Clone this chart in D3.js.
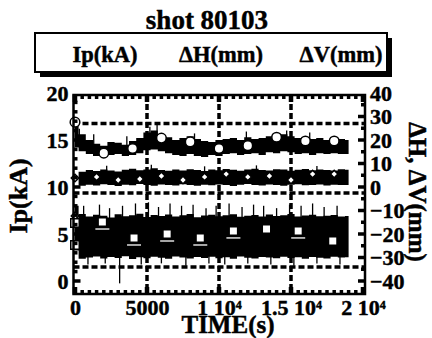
<!DOCTYPE html>
<html><head><meta charset="utf-8">
<script src="https://cdn.jsdelivr.net/npm/d3@7"></script>
<style>
body{margin:0;background:#fff}
text{font-family:"Liberation Serif","Times New Roman",serif;font-weight:bold;fill:#000;stroke:#000;stroke-width:0.45px}
</style></head><body>
<svg id="c" width="432" height="338"></svg>
<script>
// ---------------- data ----------------
const chartTitle = "shot 80103";
const seriesNames = ["Ip(kA)", "ΔH(mm)", "ΔV(mm)"];
const xTitle = "TIME(s)";
const yLeftTitle = "Ip(kA)";
const yRightTitle = "ΔH, ΔV(mm)";
const xTickValues = [0, 5000, 10000, 15000, 20000];
const xTickLabels = ["0", "5000", "1 10^4", "1.5 10^4", "2 10^4"];
const ipTickValues = [0, 5, 10, 15, 20];
const dTickValues = [-40, -30, -20, -10, 0, 10, 20, 30, 40];
const gridTimes = [5000, 10000, 15000];
const gridLevels = [27, -2.5, -34];           // mm, right axis

// envelope sample times (s)
const envTime = [0,500,1000,1500,2000,2500,3000,3500,4000,4500,5000,5500,6000,6500,7000,7500,8000,8500,9000,9500,
  10000,10500,11000,11500,12000,12500,13000,13500,14000,14500,15000,15500,16000,16500,17000,17500,18000,18500,19000];
// Ip trace envelope (kA)
const ipHigh = [16.9,15.6,15.0,14.6,14.4,14.8,14.7,14.5,14.9,15.2,15.8,16.0,15.6,15.3,15.0,15.2,15.4,15.1,14.9,14.8,
  15.0,15.1,15.2,15.0,15.3,15.1,15.2,15.4,15.3,15.6,15.4,15.2,15.3,15.1,15.2,15.0,15.3,15.1,15.0];
const ipLow = [14.2,13.8,13.5,13.3,13.2,13.4,13.5,13.3,13.4,13.6,13.9,14.0,13.8,13.6,13.4,13.3,13.5,13.3,13.2,13.4,
  13.3,13.5,13.6,13.4,13.5,13.6,13.4,13.7,13.6,13.8,13.7,13.5,13.6,13.4,13.6,13.5,13.6,13.5,13.5];
// ΔH trace envelope (mm)
const dhHigh = [-8,6.5,7.2,6.8,7.5,7.0,6.6,7.3,7.8,7.1,7.4,8.0,7.2,6.9,7.5,7.0,7.6,7.2,6.8,7.4,
  7.1,7.7,7.3,6.9,7.5,7.8,7.2,7.0,7.6,7.4,6.9,7.3,7.7,7.1,7.5,7.2,7.0,7.6,7.3];
const dhLow = [-13,0.5,1.0,0.6,1.2,0.8,0.4,1.0,0.7,1.3,0.9,0.5,1.1,0.8,0.6,1.2,0.9,0.5,1.0,0.7,
  1.1,0.8,0.4,1.0,1.3,0.9,0.6,1.1,0.8,0.5,1.0,1.2,0.7,0.9,1.1,0.6,1.0,0.8,0.9];
// ΔV trace envelope (mm)
const dvHigh = [-14,-11.5,-12.5,-11.8,-12.2,-13.0,-11.6,-12.4,-12.0,-11.4,-12.8,-11.9,-12.3,-11.7,-12.6,-12.0,-11.5,-12.9,-12.1,-11.8,
  -12.4,-12.0,-11.6,-12.7,-12.2,-11.9,-12.5,-11.7,-12.3,-12.0,-11.5,-12.6,-12.1,-11.8,-12.4,-12.2,-11.9,-12.5,-12.3];
const dvLow = [-27,-30.5,-30.0,-29.6,-30.4,-29.8,-30.2,-29.5,-30.6,-29.9,-30.3,-29.7,-30.1,-30.5,-29.6,-30.0,-30.4,-29.8,-30.2,-29.7,
  -30.3,-29.9,-30.5,-29.6,-30.1,-30.4,-29.8,-30.0,-30.3,-29.7,-30.2,-29.9,-30.5,-29.8,-30.1,-30.4,-29.7,-30.0,-29.9];

// noise spikes (time s, tip value)
const ipSpikeT = [300,1300,3600,5200,5700,8300,11900,14700,16300];
const ipSpikeV = [16.2,15.6,15.4,16.4,16.6,15.7,15.9,16.0,15.8];
const dhSpikeT = [2200,5300,9000,12600,16800];
const dhSpikeV = [9.0,9.5,8.8,9.2,8.9];
const dvUpT = [600,1700,2400,3300,4200,5100,5800,6600,7400,8200,9100,9800,10700,11600,12400,13100,14000,14900,15700,16500,17300,18200];
const dvUpV = [-8,-7.5,-9,-8,-7,-6.5,-8.5,-7,-8,-7.5,-9,-8,-7,-8.5,-7.5,-8,-9,-7.5,-8,-7,-8.5,-8];
const dvDnT = [900,2100,3100,4600,6000,7700,9300,10400,12000,13600,15200,16800,18400];
const dvDnV = [-33,-32.5,-41,-33,-32.5,-33.5,-32.5,-33,-32.5,-33,-33.5,-32.5,-33];

// markers
const ipMarkT = [0,2000,4000,6000,8000,10000,12000,14000,16000,18000];
const ipMarkV = [16.9,13.6,14.1,15.2,14.8,14.1,14.4,15.3,14.9,14.9];
const dhMarkT = [0,0,1500,3000,4500,6000,7500,9000,10500,12000,13500,15000,16500,18000];
const dhMarkV = [-12.3,3.8,4.3,3.0,3.4,4.7,3.0,4.3,5.5,4.3,4.7,3.0,5.5,5.5];
const dvMarkT = [0,0,1900,4100,6400,8700,11000,13300,15500,17900];
const dvMarkV = [-15.3,-24.7,-14.9,-21.7,-20.0,-21.7,-18.7,-17.9,-18.7,-23.0];
const dvUnderlined = [2,3,4,5,6,8];

// ---------------- drawing ----------------
const svg = d3.select("#c");
const x = d3.scaleLinear([0, 20000], [75, 363]);
const yL = d3.scaleLinear([0, 20], [281, 93]);
const yR = d3.scaleLinear([-40, 40], [281, 93]);
const fr = {x0: 73.5, x1: 365, y0: 95, y1: 294};

// title
svg.append("text").attr("x", 207).attr("y", 29).attr("text-anchor", "middle")
  .style("font-size", "27px").text(chartTitle);

// legend box
svg.append("rect").attr("x", 40).attr("y", 38).attr("width", 352).attr("height", 39).attr("fill", "#000");
svg.append("rect").attr("x", 35).attr("y", 33).attr("width", 352).attr("height", 39)
  .attr("fill", "#fff").attr("stroke", "#000").attr("stroke-width", 2);
const legX = [105, 221, 341];
seriesNames.forEach((s, i) => {
  svg.append("text").attr("x", legX[i]).attr("y", 62).attr("text-anchor", "middle")
    .style("font-size", "22.5px").text(s);
});

// grid
const grid = svg.append("g").attr("stroke", "#000").attr("stroke-width", 3.5).attr("stroke-dasharray", "6,3");
gridTimes.forEach(t => grid.append("line").attr("x1", x(t)).attr("x2", x(t)).attr("y1", fr.y0).attr("y2", fr.y1));
gridLevels.forEach(v => grid.append("line").attr("x1", fr.x0).attr("x2", fr.x1).attr("y1", yR(v)).attr("y2", yR(v)));

// bands
function band(hi, lo, y) {
  const d = envTime.map((t, i) => ({t, hi: hi[i], lo: lo[i]}));
  svg.append("path").datum(d).attr("fill", "#000")
    .attr("d", d3.area().x(p => x(p.t)).y0(p => y(p.lo)).y1(p => y(p.hi)).curve(d3.curveStep));
}
band(ipHigh, ipLow, yL);
band(dhHigh, dhLow, yR);
band(dvHigh, dvLow, yR);

function mid(hi, lo, t) {
  const i = d3.bisectLeft(envTime, t);
  const k = Math.min(i, envTime.length - 1);
  return (hi[k] + lo[k]) / 2;
}
function spikes(T, V, hi, lo, y) {
  T.forEach((t, i) => svg.append("line").attr("x1", x(t)).attr("x2", x(t))
    .attr("y1", y(V[i])).attr("y2", y(mid(hi, lo, t))).attr("stroke", "#000").attr("stroke-width", 1.3));
}
spikes(ipSpikeT, ipSpikeV, ipHigh, ipLow, yL);
spikes(dhSpikeT, dhSpikeV, dhHigh, dhLow, yR);
spikes(dvUpT, dvUpV, dvHigh, dvLow, yR);
spikes(dvDnT, dvDnV, dvHigh, dvLow, yR);

// markers
svg.append("g").selectAll("circle").data(ipMarkT).join("circle")
  .attr("cx", d => x(d)).attr("cy", (d, i) => yL(ipMarkV[i])).attr("r", 4.8)
  .attr("fill", "#fff").attr("stroke", "#000").attr("stroke-width", 1.5);
svg.append("g").selectAll("path").data(dhMarkT).join("path")
  .attr("d", d3.symbol(d3.symbolSquare, 28)())
  .attr("transform", (d, i) => `translate(${x(d)},${yR(dhMarkV[i])}) rotate(45)`)
  .attr("fill", "#fff").attr("stroke", "#000").attr("stroke-width", 1.5);
svg.append("g").selectAll("line").data(dvUnderlined).join("line")
  .attr("x1", i => x(dvMarkT[i]) - 7).attr("x2", i => x(dvMarkT[i]) + 7)
  .attr("y1", i => yR(dvMarkV[i]) + 7).attr("y2", i => yR(dvMarkV[i]) + 7)
  .attr("stroke", "#fff").attr("stroke-width", 1.3);
svg.append("g").selectAll("path").data(dvMarkT).join("path")
  .attr("d", d3.symbol(d3.symbolSquare, 72)())
  .attr("transform", (d, i) => `translate(${x(d)},${yR(dvMarkV[i])})`)
  .attr("fill", "#fff").attr("stroke", "#000").attr("stroke-width", 1.5);

// frame with ticks
const fg = svg.append("g").attr("stroke", "#000");
fg.append("rect").attr("x", fr.x0).attr("y", fr.y0).attr("width", fr.x1 - fr.x0).attr("height", fr.y1 - fr.y0)
  .attr("fill", "none").attr("stroke-width", 2.5);
d3.range(0, 20001, 500).forEach(t => {
  const L = t % 5000 === 0 ? 7 : 4, w = t % 5000 === 0 ? 4.5 : 3.5;
  if (x(t) < fr.x0 + 1 || x(t) > fr.x1 - 1) return;
  fg.append("line").attr("x1", x(t)).attr("x2", x(t)).attr("y1", fr.y1).attr("y2", fr.y1 - L).attr("stroke-width", w);
  fg.append("line").attr("x1", x(t)).attr("x2", x(t)).attr("y1", fr.y0).attr("y2", fr.y0 + L).attr("stroke-width", w);
});
d3.range(0, 20.01, 1).forEach(v => {
  const L = v % 5 === 0 ? 7 : 4;
  if (yL(v) < fr.y0 + 1) return;
  fg.append("line").attr("x1", fr.x0).attr("x2", fr.x0 + L).attr("y1", yL(v)).attr("y2", yL(v)).attr("stroke-width", 3.5);
});
d3.range(-40, 40.01, 5).forEach(v => {
  const L = v % 10 === 0 ? 7 : 4;
  if (yR(v) < fr.y0 + 1) return;
  fg.append("line").attr("x1", fr.x1).attr("x2", fr.x1 - L).attr("y1", yR(v)).attr("y2", yR(v)).attr("stroke-width", 3.5);
});

// axes labels
const axL = svg.append("g").attr("transform", `translate(${fr.x0},0)`)
  .call(d3.axisLeft(yL).tickValues(ipTickValues).tickSize(0).tickPadding(5));
const axR = svg.append("g").attr("transform", `translate(${fr.x1},0)`)
  .call(d3.axisRight(yR).tickValues(dTickValues).tickSize(0).tickPadding(5));
const axB = svg.append("g").attr("transform", `translate(0,${fr.y1})`)
  .call(d3.axisBottom(x).tickValues(xTickValues).tickSize(0).tickPadding(5).tickFormat((d, i) => xTickLabels[i]));
[axL, axR, axB].forEach(a => {
  a.select(".domain").remove();
  a.selectAll("text").style("font-size", "22px").attr("fill", "#000");
  a.attr("font-family", null).attr("font-size", null);
});
axB.selectAll("text").each(function() {
  const t = d3.select(this), s = t.text();
  if (s.includes("^")) {
    const [base, sup] = s.split("^");
    t.text(base);
    t.append("tspan").attr("dy", "-0.5em").style("font-size", "12px").text(sup);
  }
});

svg.append("text").attr("x", 228).attr("y", 333).attr("text-anchor", "middle").style("font-size", "25px").text(xTitle);
svg.append("text").attr("transform", "translate(27,196) rotate(-90)").attr("text-anchor", "middle")
  .style("font-size", "26px").text(yLeftTitle);
svg.append("text").attr("transform", "translate(409,192) rotate(90)").attr("text-anchor", "middle")
  .style("font-size", "25px").text(yRightTitle);
</script></body></html>
